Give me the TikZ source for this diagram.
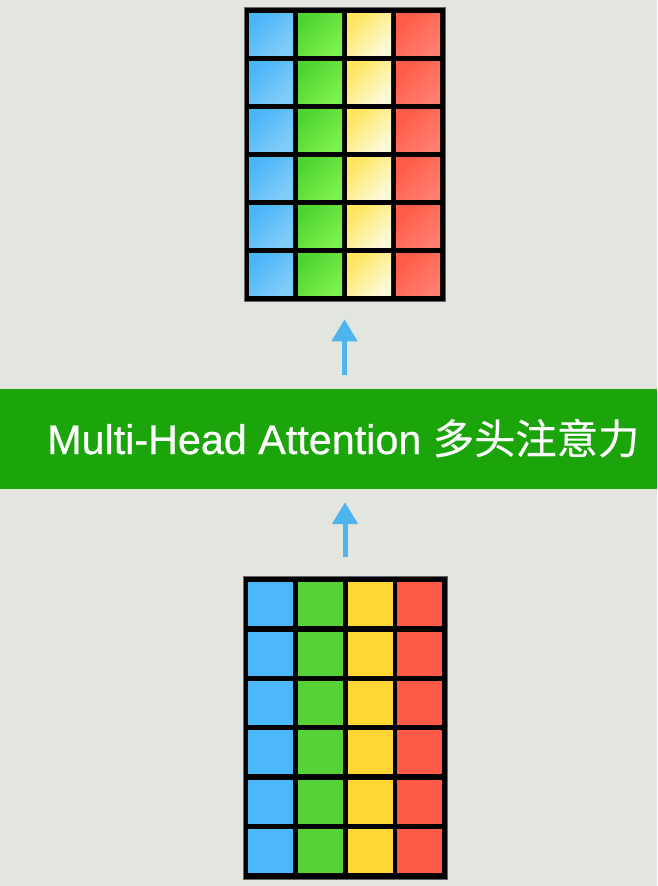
\documentclass[tikz,border=0pt]{standalone}
\usepackage{fontspec}
\setmainfont{Liberation Sans}
\newfontfamily\cjk{Noto Sans CJK SC}
\usepackage{xcolor}
\usepackage{tikz}
\usetikzlibrary{positioning}
\usetikzlibrary{arrows.meta}
\pgfdeclarelayer{bglayer}
\pgfdeclarelayer{nodelayer}
\pgfdeclarelayer{edgelayer}
\pgfsetlayers{bglayer,nodelayer,edgelayer,main}

\definecolor{bgcol}{HTML}{E2E6DF}
\definecolor{bannercol}{HTML}{1BA50B}
\definecolor{flowcol}{HTML}{4DB4EE}
\definecolor{cblue}{HTML}{4AB8FA}
\definecolor{cgreen}{HTML}{55D336}
\definecolor{cyellow}{HTML}{FFD633}
\definecolor{cred}{HTML}{FF5A47}
\definecolor{tblue}{HTML}{4AB6F8}
\definecolor{tbluel}{HTML}{80CDF8}
\definecolor{tgreen}{HTML}{4ED530}
\definecolor{tgreenl}{HTML}{7CF04E}
\definecolor{tyellow}{HTML}{FFE55E}
\definecolor{tyellowl}{HTML}{FFF9D8}
\definecolor{tred}{HTML}{FF5C47}
\definecolor{tredl}{HTML}{FF7E6F}

\tikzset{
  frame/.style={rectangle, fill=black, draw=black!60, line width=0.6pt, inner sep=0pt},
  cell/.style={rectangle, inner sep=0pt, anchor=north west},
  banner/.style={rectangle, fill=bannercol, inner sep=0pt, minimum width=657pt, minimum height=100pt},
  title/.style={text=white, inner sep=0pt, font=\fontsize{41.3}{49}\selectfont\addfontfeature{FakeBold=0.6}},
  flow/.style={draw=flowcol, line width=5pt, -{Triangle[width=25pt, length=22pt]}}
}

\begin{document}
\begin{tikzpicture}[x=1pt, y=-1pt]
  \begin{pgfonlayer}{bglayer}
    \fill [bgcol] (0, 0) rectangle (657, 886);
  \end{pgfonlayer}
  \begin{pgfonlayer}{nodelayer}
    % output matrix
    \node [frame, minimum width=201pt, minimum height=294pt] (topgrid) at (344.5, 154) {};
    \foreach \c/\ca/\cb in {0/tblue/tbluel, 1/tgreen/tgreenl, 2/tyellow/tyellowl, 3/tred/tredl}
      \foreach \r in {0,...,5}
        \node [cell, minimum width=44pt, minimum height=42pt,
               top color=\ca, bottom color=\cb, shading angle=45]
          (t-\r-\c) at (249 + 49*\c, 13 + 48*\r) {};
    % input matrix
    \node [frame, minimum width=204pt, minimum height=303pt] (botgrid) at (345, 727.5) {};
    \foreach \c/\col in {0/cblue, 1/cgreen, 2/cyellow, 3/cred}
      \foreach \r in {0,...,5}
        \node [cell, fill=\col, minimum width=45pt, minimum height=44pt]
          (b-\r-\c) at (248 + 49.7*\c, 582 + 49.4*\r) {};
    % attention layer
    \node [banner] (banner) at (328.5, 439) {};
    \node [title, anchor=base west] (label) at (47, 454) {Multi-Head Attention {\cjk\addfontfeature{FakeBold=0.3}多头注意力}};
  \end{pgfonlayer}
  \begin{pgfonlayer}{edgelayer}
    \draw [flow, shorten <=19pt, shorten >=13pt] (botgrid.north) to (botgrid.north |- banner.south);
    \draw [flow, shorten <=14pt, shorten >=18pt] (topgrid.south |- banner.north) to (topgrid.south);
  \end{pgfonlayer}
\end{tikzpicture}
\end{document}
